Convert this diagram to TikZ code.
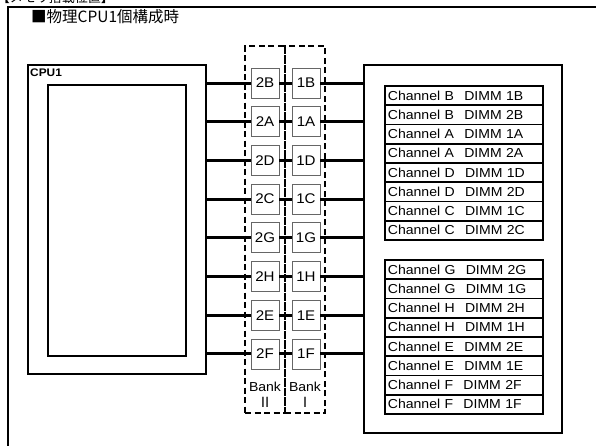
\documentclass[tikz,border=0pt]{standalone}
\usepackage{fontspec}
\setmainfont[FakeStretch=1.08]{Liberation Sans}
\newfontfamily\jpfont{Noto Sans CJK JP}
\usetikzlibrary{positioning}

\begin{document}
\begin{tikzpicture}[x=1pt,y=-1pt,
  frame/.style={draw,line width=2pt,inner sep=0pt},
  slot/.style={draw=black!60,line width=0.8pt,fill=white,minimum width=28pt,
               minimum height=30pt,inner sep=0pt,font=\fontsize{14}{16}\selectfont},
  bank/.style={draw,line width=1.8pt,dash pattern=on 6pt off 3.5pt,inner sep=0pt,
               minimum width=40pt,minimum height=367pt},
  bus/.style={line width=3pt},
  chan/.style={draw,line width=1.8pt,anchor=north west,minimum width=158pt,
               minimum height=19.3pt,inner sep=2pt,text width=152pt,align=left,
               font=\fontsize{13}{15}\selectfont}
]
\useasboundingbox (0,0) rectangle (596,445);
\clip (0,0) rectangle (596,445);

% Outer frame and headings
\draw[line width=2pt] (8,7) rectangle (620,470);
\node[anchor=east,inner sep=0pt,font=\jpfont\fontsize{13}{13}\selectfont] (head) at (114,-2) {【メモリ搭載位置】};
\node[anchor=west,inner sep=0pt,font=\jpfont\fontsize{15.5}{17}\selectfont] (title) at (31,17) {■物理CPU1個構成時};

% CPU
\node[frame,minimum width=178pt,minimum height=309pt] (cpu) at (117,219.5) {};
\node[frame,minimum width=138pt,minimum height=271pt] (cpuin) at (117,220.5) {};
\node[anchor=west,inner sep=0pt,font=\bfseries\fontsize{11}{13}\selectfont] (cpulab) at (30,73) {CPU1};

% Memory area
\node[frame,minimum width=198pt,minimum height=368pt] (mem) at (463,249) {};
\foreach \c/\d [count=\k from 0] in {B/1B,B/2B,A/1A,A/2A,D/1D,D/2D,C/1C,C/2C}
  \node[chan] (cha\k) at (384,85+19.25*\k) {Channel \c\hspace{0.8em}DIMM \d};
\foreach \c/\d [count=\k from 0] in {G/2G,G/1G,H/2H,H/1H,E/2E,E/1E,F/2F,F/1F}
  \node[chan] (chb\k) at (384,259+19.25*\k) {Channel \c\hspace{0.8em}DIMM \d};

% Banks
\node[bank] (bank2) at (265,229.5) {};
\node[bank] (bank1) at (305,229.5) {};
\node[align=center,inner sep=0pt,font=\fontsize{13}{16}\selectfont] (lab2) at (265,395) {Bank\\{\jpfont\fontsize{14}{16}\selectfont Ⅱ}};
\node[align=center,inner sep=0pt,font=\fontsize{13}{16}\selectfont] (lab1) at (305,395) {Bank\\{\jpfont\fontsize{14}{16}\selectfont Ⅰ}};

% Slots and wiring
\foreach \a/\b [count=\i from 0] in {2B/1B,2A/1A,2D/1D,2C/1C,2G/1G,2H/1H,2E/1E,2F/1F} {
  \node[slot] (s2-\i) at (265,83+38.7*\i) {\a};
  \node[slot] (s1-\i) at (306,83+38.7*\i) {\b};
  \draw[bus] (s2-\i.west -| cpu.east) -- (s2-\i.west);
  \draw[bus] (s2-\i) -- (s1-\i);
  \draw[bus] (s1-\i.east) -- (s1-\i.east -| mem.west);
}
\end{tikzpicture}
\end{document}
